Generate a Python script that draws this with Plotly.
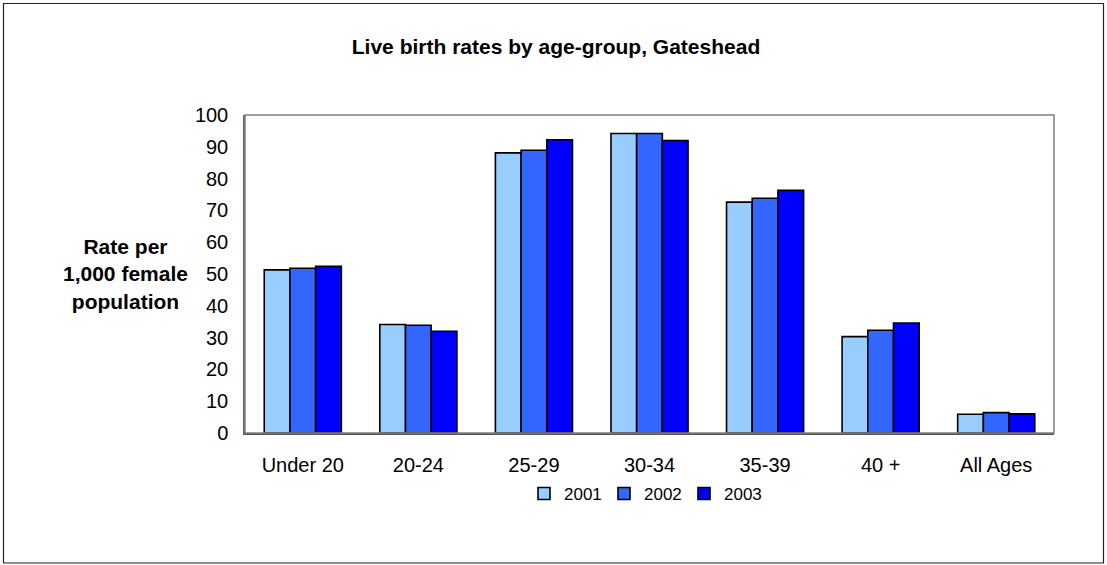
import plotly.graph_objects as go

categories = ["Under 20", "20-24", "25-29", "30-34", "35-39", "40 +", "All Ages"]
series_names = ["2001", "2002", "2003"]
rates_2001 = [51.3, 34.1, 88.1, 94.2, 72.6, 30.3, 5.9]
rates_2002 = [51.8, 33.9, 88.9, 94.2, 73.8, 32.3, 6.4]
rates_2003 = [52.4, 32.0, 92.2, 92.0, 76.3, 34.6, 6.0]
y_ticks = [0, 10, 20, 30, 40, 50, 60, 70, 80, 90, 100]

colors = ["#99CCFF", "#3366FF", "#0000FF"]
FONT = "Liberation Sans, Arial, sans-serif"

W, H = 1107, 565
ML, MR, MT, MB = 245, 53, 115, 132
PW, PH = W - ML - MR, H - MT - MB

def px_x(p):
    return (p - ML) / PW

def px_y(p):
    return (H - MB - p) / PH

fig = go.Figure()
for name, vals, c in zip(series_names, [rates_2001, rates_2002, rates_2003], colors):
    fig.add_trace(go.Bar(
        x=categories, y=vals, name=name,
        marker=dict(color=c, line=dict(color="#000000", width=1.6)),
    ))

fig.update_layout(
    width=W, height=H,
    margin=dict(l=ML, r=MR, t=MT, b=MB),
    paper_bgcolor="white", plot_bgcolor="white",
    barmode="group", bargap=0.333, bargroupgap=0,
    font=dict(family=FONT, size=20, color="#000000"),
    title=dict(text="<b>Live birth rates by age-group, Gateshead</b>",
               x=px_x(556), xref="paper", xanchor="center", y=1 - 47 / H, yanchor="middle",
               font=dict(size=21, family=FONT)),
    showlegend=True,
    legend=dict(orientation="h", x=px_x(644), xanchor="center",
                y=px_y(494), yanchor="middle",
                font=dict(size=17, family=FONT), itemwidth=30,
                entrywidth=35, entrywidthmode="pixels",
                traceorder="normal"),
    xaxis=dict(showline=True, linecolor="#555555", linewidth=1.5, mirror=False,
               ticks="", ticklabelstandoff=13, tickfont=dict(size=20)),
    yaxis=dict(range=[0, 100], tickvals=y_ticks, showgrid=False,
               showline=True, linecolor="#666666", linewidth=1.5,
               ticks="", ticklabelstandoff=11, tickfont=dict(size=20),
               zeroline=False),
    shapes=[
        dict(type="rect", xref="paper", yref="paper", x0=0, x1=1, y0=0, y1=1,
             line=dict(color="#808080", width=1.5)),
        dict(type="rect", xref="paper", yref="paper",
             x0=px_x(3.5), x1=px_x(1103.5), y0=px_y(563), y1=px_y(3.5),
             line=dict(color="#222222", width=1.2)),
    ],
    annotations=[
        dict(text="<b>Rate per<br>1,000 female<br>population</b>",
             xref="paper", yref="paper", x=px_x(125), y=px_y(274),
             xanchor="center", yanchor="middle", showarrow=False,
             align="center", font=dict(size=21, family=FONT)),
    ],
)

fig.write_html(
    "out.html",
    config={"displayModeBar": False},
    post_script="document.body.style.margin='0';document.body.style.overflow='hidden';",
)
